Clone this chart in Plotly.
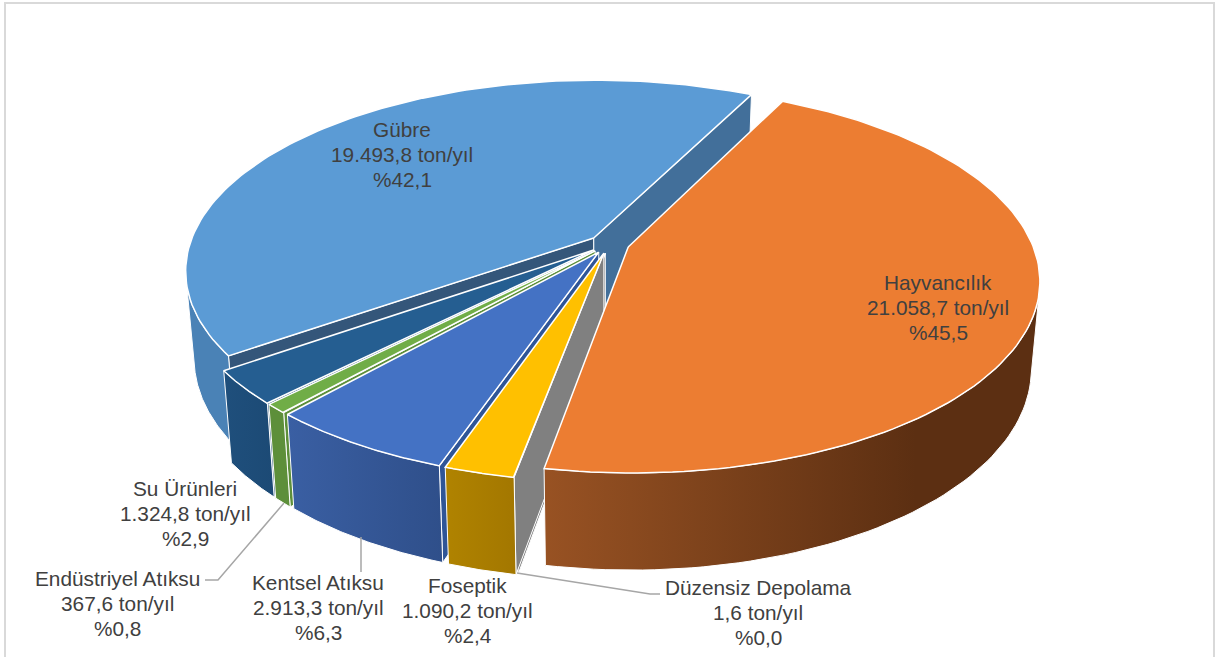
import math
import numpy as np
import plotly.graph_objects as go

# Emission sources, in the clockwise order of the pie
names = ["Hayvancılık", "Düzensiz Depolama", "Foseptik", "Kentsel Atıksu",
         "Endüstriyel Atıksu", "Su Ürünleri", "Gübre"]
tons = [21058.7, 1.6, 1090.2, 2913.3, 367.6, 1324.8, 19493.8]

top_colors = ["#EC7D32", "#A5A5A5", "#FFC000", "#4472C4", "#70AD47", "#255E91", "#5B9BD5"]
wall_left = ["#985223", "#808080", "#B08300", "#3A5FA3", "#5D8F3A", "#1F4F7C", "#4A82B6"]
wall_right = ["#5C2F12", "#808080", "#A37700", "#2F4F8A", "#5D8F3A", "#1C4A75", "#4A82B6"]
face_start = ["#426F9A", "#808080", "#808080", "#2F5597", "#5D8F3A", "#1C4A75", "#34567A"]
face_end = ["#5C2F12", "#808080", "#A37700", "#2F5597", "#5D8F3A", "#1C4A75", "#426F9A"]

label_anchor = {
    "Hayvancılık": (938, 282), "Düzensiz Depolama": (758, 587), "Foseptik": (467, 585),
    "Kentsel Atıksu": (318, 582), "Endüstriyel Atıksu": (117, 578),
    "Su Ürünleri": (185, 488), "Gübre": (402, 129),
}
label_step = 25

# Projection of the pie disk on the canvas
CX, CY = 609, 244
RX, RY = 404, 186.5
PERSP = 0.17
DEPTH = 86
FLOOR_X = 0.98
FLOOR_Y = 0.97
EXPLODE = 0.05
START = 26.5
VISIBLE = (104, 256)  # arc of the rim that faces the viewer


def project(u, v, low=False):
    d = 1 - PERSP * v
    if low:
        return CX + RX * FLOOR_X * u / d, CY + (RY * FLOOR_Y * v + DEPTH) / d
    return CX + RX * u / d, CY + RY * v / d


def tr_format(value, decimals=1):
    s = f"{value:,.{decimals}f}"
    return s.replace(",", "X").replace(".", ",").replace("X", ".")


total = sum(tons)
edges = [START]
for t in tons:
    edges.append(edges[-1] + t / total * 360)

fig = go.Figure()


def poly(xs, ys, color, **extra):
    fig.add_trace(go.Scatter(
        x=xs, y=ys, mode="lines", fill="toself", fillcolor=color,
        line=dict(color="white", width=extra.pop("lw", 1.2)),
        hoverinfo="skip", showlegend=False, **extra))


def rim(th, ox, oy, low=False):
    r = math.radians(th)
    return project(ox + math.sin(r), oy - math.cos(r), low)


def draw_slice(i):
    a0, a1 = edges[i], edges[i + 1]
    mid = math.radians((a0 + a1) / 2)
    ox, oy = EXPLODE * math.sin(mid), -EXPLODE * math.cos(mid)

    apex_t = project(ox, oy)
    apex_b = project(ox, oy, True)

    # radial faces, only where they turn towards the viewer
    for ang, col, sign in ((a0, face_start[i], -1), (a1, face_end[i], 1)):
        pt, pb = rim(ang, ox, oy), rim(ang, ox, oy, True)
        cross = (pt[0] - apex_t[0]) * (pb[1] - pt[1]) - (pt[1] - apex_t[1]) * (pb[0] - pt[0])
        if cross * sign > 0:
            poly([apex_t[0], pt[0], pb[0], apex_b[0], apex_t[0]],
                 [apex_t[1], pt[1], pb[1], apex_b[1], apex_t[1]], col, lw=1.0)

    # outer wall, limited to the part that faces the viewer
    w0 = max(a0, VISIBLE[0])
    w1 = min(a1, VISIBLE[1])
    if w1 > w0:
        th = np.linspace(w0, w1, 60)
        top = [rim(t, ox, oy) for t in th]
        low = [rim(t, ox, oy, True) for t in th[::-1]]
        pts = top + low + [top[0]]
        xs = [p[0] for p in pts]
        ys = [p[1] for p in pts]
        poly(xs, ys, wall_left[i], lw=1.0,
             fillgradient=dict(type="horizontal", start=min(xs),
                               stop=min(xs) + (max(xs) - min(xs)) * (0.75 if i == 0 else 1),
                               colorscale=[[0, wall_left[i]], [1, wall_right[i]]]))

    # top surface
    th = np.linspace(a0, a1, 120)
    pts = [apex_t] + [rim(t, ox, oy) for t in th] + [apex_t]
    poly([p[0] for p in pts], [p[1] for p in pts], top_colors[i], lw=1.5)


# Painter's order: farthest slices first
for idx in [6, 5, 4, 3, 1, 2, 0]:
    draw_slice(idx)

annotations = []
for n, t in zip(names, tons):
    x, y = label_anchor[n]
    lines = [n, f"{tr_format(t)} ton/yıl", f"%{tr_format(t / total * 100)}"]
    for k, line in enumerate(lines):
        annotations.append(dict(
            x=x, y=y + k * label_step, text=line, showarrow=False, xref="x", yref="y",
            xanchor="center", yanchor="middle",
            font=dict(family="Liberation Sans", size=20.8, color="#404040")))

LEADER = "#A6A6A6"
leaders = [
    [(205, 580), (218, 580), (284, 503)],
    [(361, 537), (361, 572)],
    [(517, 573), (650, 594), (660, 594)],
]
shapes = [dict(type="rect", xref="x", yref="y", x0=5, y0=3, x1=1214, y1=670,
               line=dict(color="#D9D9D9", width=2), layer="below")]
for pts in leaders:
    path = "M " + " L ".join(f"{x} {y}" for x, y in pts)
    shapes.append(dict(type="path", path=path, xref="x", yref="y",
                       line=dict(color=LEADER, width=1.5)))

fig.update_layout(
    width=1216, height=657, margin=dict(l=0, r=0, t=0, b=0),
    paper_bgcolor="white", plot_bgcolor="white", showlegend=False,
    xaxis=dict(range=[0, 1216], visible=False, fixedrange=True),
    yaxis=dict(range=[657, 0], visible=False, fixedrange=True),
    annotations=annotations, shapes=shapes,
)

fig.write_html("out.html")
